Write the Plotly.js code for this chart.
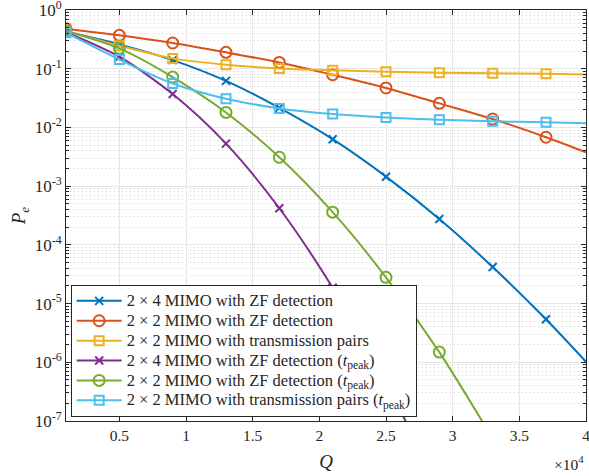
<!DOCTYPE html>
<html>
<head>
<meta charset="utf-8">
<script src="https://cdn.plot.ly/plotly-3.0.1.min.js"></script>
<style>html,body{margin:0;padding:0;background:#fff;}#chart{width:589px;height:476px;}</style>
</head>
<body>
<div id="chart"></div>
<script>
// Q values (markers every 4000, last point is line end only)
const Q = [1000, 5000, 9000, 13000, 17000, 21000, 25000, 29000, 33000, 37000, 40000];
const pe2x4ZF      = [0.43, 0.26, 0.14, 0.062, 0.0215, 0.0063, 0.00145, 2.75e-4, 4.2e-5, 5.4e-6, 1.02e-6];
const pe2x2ZF      = [0.48, 0.37, 0.274, 0.19, 0.128, 0.079, 0.047, 0.0257, 0.0139, 0.0068, 0.00376];
const pe2x2Pairs   = [0.44, 0.247, 0.15, 0.117, 0.101, 0.094, 0.089, 0.0855, 0.0834, 0.082, 0.080];
const pe2x4ZFpeak  = [0.42, 0.16, 0.037, 0.0053, 4.2e-4, 1.86e-5, 4.7e-7, 6e-9, null, null, null];
const pe2x2ZFpeak  = [0.44, 0.222, 0.072, 0.018, 0.0031, 3.6e-4, 2.8e-5, 1.49e-6, 5e-8, null, null];
const pe2x2PairsPeak = [0.41, 0.143, 0.056, 0.0308, 0.0211, 0.0169, 0.0148, 0.01355, 0.0127, 0.0122, 0.01175];

const seriesNames = [
  '2 × 4 MIMO with ZF detection',
  '2 × 2 MIMO with ZF detection',
  '2 × 2 MIMO with transmission pairs',
  '2 × 4 MIMO with ZF detection (<i>t</i><sub>peak</sub>)',
  '2 × 2 MIMO with ZF detection (<i>t</i><sub>peak</sub>)',
  '2 × 2 MIMO with transmission pairs (<i>t</i><sub>peak</sub>)'
];
const xTickVals = [5000, 10000, 15000, 20000, 25000, 30000, 35000, 40000];
const xTickText = ['0.5', '1', '1.5', '2', '2.5', '3', '3.5', '4'];
const yTickVals = [1, 1e-1, 1e-2, 1e-3, 1e-4, 1e-5, 1e-6, 1e-7];
const yTickText = ['10<sup>0</sup>', '10<sup>-1</sup>', '10<sup>-2</sup>', '10<sup>-3</sup>',
                   '10<sup>-4</sup>', '10<sup>-5</sup>', '10<sup>-6</sup>', '10<sup>-7</sup>'];

const series = [pe2x4ZF, pe2x2ZF, pe2x2Pairs, pe2x4ZFpeak, pe2x2ZFpeak, pe2x2PairsPeak];
const colors = ['#0072BD', '#D95319', '#EDB120', '#7E2F8E', '#77AC30', '#4DBEEE'];
const symbols = ['x-thin-open', 'circle-open', 'square-open', 'x-thin-open', 'circle-open', 'square-open'];
const sizes = [8, 11, 9, 8, 11, 9];

const traces = series.map((ys, i) => ({
  x: Q, y: ys, type: 'scatter', mode: 'lines+markers',
  name: '<span style="font-size:16.5px">' + seriesNames[i] + '</span>',
  line: {color: colors[i], width: 2, shape: 'spline', smoothing: 0.8},
  marker: {
    symbol: symbols[i], size: sizes[i],
    color: Q.map((q, k) => k < Q.length - 1 ? colors[i] : 'rgba(0,0,0,0)'),
    line: {width: 2}
  }
}));

const font = 'Liberation Serif, Times New Roman, serif';
const ink = '#262626';
const layout = {
  width: 589, height: 476,
  margin: {l: 66, r: 3, t: 10, b: 55},
  paper_bgcolor: '#fff', plot_bgcolor: '#fff',
  font: {family: font, size: 15, color: ink},
  showlegend: true,
  legend: {
    x: 0.009, y: 0.01, xanchor: 'left', yanchor: 'bottom',
    bgcolor: '#fff', bordercolor: ink, borderwidth: 1,
    font: {family: font, size: 13, color: ink},
    itemwidth: 45, tracegroupgap: 0
  },
  xaxis: {
    range: [1000, 40000], tickvals: xTickVals, ticktext: xTickText,
    ticklabeloverflow: 'allow',
    showline: true, linecolor: ink, linewidth: 1, mirror: 'allticks',
    ticks: 'inside', ticklen: 5, tickcolor: ink,
    showgrid: true, gridcolor: '#e6e6e6', gridwidth: 1, zeroline: false,
    tickfont: {family: font, size: 15.5, color: ink},
    title: {text: '<i>Q</i>', font: {family: font, size: 19, color: ink}, standoff: 12}
  },
  yaxis: {
    type: 'log', range: [-7, 0], tickvals: yTickVals, ticktext: yTickText,
    ticklabeloverflow: 'allow',
    showline: true, linecolor: ink, linewidth: 1, mirror: 'allticks',
    ticks: 'inside', ticklen: 5, tickcolor: ink,
    showgrid: true, gridcolor: '#e6e6e6', gridwidth: 1, zeroline: false,
    tickfont: {family: font, size: 17, color: ink},
    minor: {dtick: 'D1', ticks: 'inside', ticklen: 3, tickcolor: ink, showgrid: true, gridcolor: '#cfcfcf', griddash: '1px,3px', gridwidth: 1},
    title: {text: '<i>P</i><sub><i>e</i></sub>', font: {family: font, size: 19, color: ink}, standoff: 4}
  },
  annotations: [{
    xref: 'paper', yref: 'paper', x: 1, y: 0, xanchor: 'right', yanchor: 'top', yshift: -30,
    text: '×10<sup>4</sup>', showarrow: false, font: {family: font, size: 15.5, color: ink}
  }]
};

Plotly.newPlot('chart', traces, layout, {displayModeBar: false, staticPlot: true});
</script>
</body>
</html>
